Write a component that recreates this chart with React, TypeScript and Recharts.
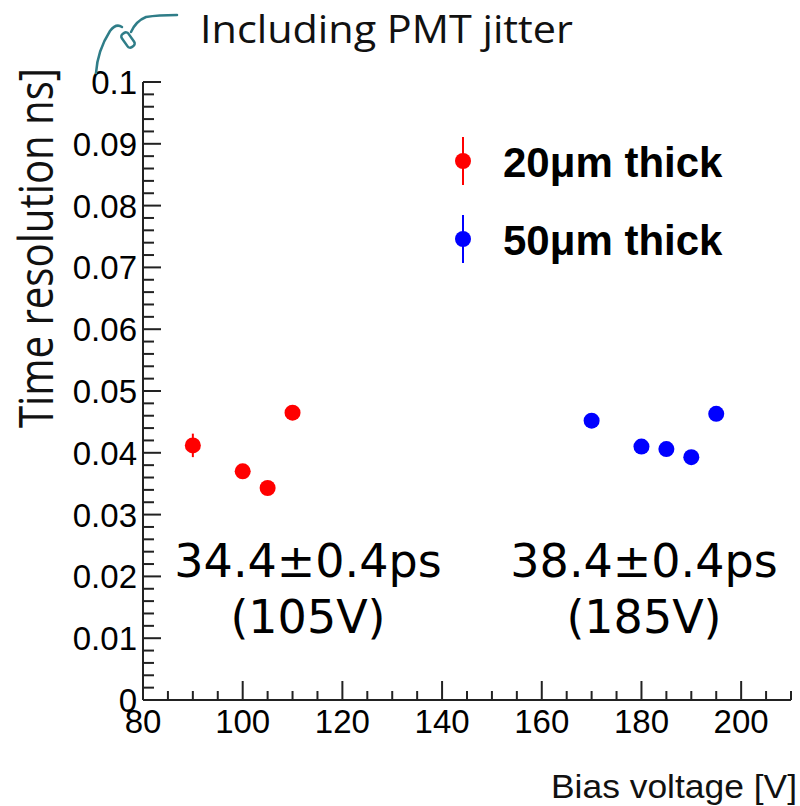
import React from 'react'
import { ScatterChart, Scatter, XAxis, YAxis, ErrorBar, Legend, Label } from 'recharts'

// 20um sensor: bias voltage [V] vs time resolution [ns]
const thinVoltage = [90, 100, 105, 110]
const thinResolution = [0.0412, 0.037, 0.0343, 0.0465]
const thinError = [0.0019, 0.0006, 0.0005, 0.0006]

// 50um sensor
const thickVoltage = [170, 180, 185, 190, 195]
const thickResolution = [0.0452, 0.041, 0.0406, 0.0393, 0.0463]
const thickError = [0.0005, 0.0005, 0.0005, 0.0005, 0.0005]

const seriesNames = ['20\u03bcm thick', '50\u03bcm thick']
const xMajorTicks = [80, 100, 120, 140, 160, 180, 200]
const yMajorTicks = ['0', '0.01', '0.02', '0.03', '0.04', '0.05', '0.06', '0.07', '0.08', '0.09', '0.1']
const bestResults = [
  { text: '34.4\u00b10.4ps', bias: '(105V)', cx: 308 },
  { text: '38.4\u00b10.4ps', bias: '(185V)', cx: 644 },
]

const thinData = thinVoltage.map((x, i) => ({ x, y: thinResolution[i], err: thinError[i] }))
const thickData = thickVoltage.map((x, i) => ({ x, y: thickResolution[i], err: thickError[i] }))

// every 5 V on x, every 0.002 ns on y (minor ticks)
const xTicks = Array.from({ length: 27 }, (_, i) => 80 + i * 5)
const yTicks = Array.from({ length: 51 }, (_, i) => i / 500)

const AXIS = '#222'
const tickFont = '"Liberation Sans", Arial, sans-serif'

const isMajorX = (v: number) => xMajorTicks.includes(v)
const majorYLabel = (v: number) => {
  const i = Math.round(v * 500)
  return i % 5 === 0 ? yMajorTicks[i / 5] : null
}

const BottomTick = ({ x, y, payload }: any) => {
  const major = isMajorX(payload.value)
  return (
    <g>
      <line x1={x} x2={x} y1={y} y2={y - (major ? 19 : 9)} stroke={AXIS} strokeWidth={2} />
      {major && (
        <text x={x} y={y + 33} textAnchor="middle" fontSize={33} fontFamily={tickFont} fill="#000">
          {payload.value}
        </text>
      )}
    </g>
  )
}

const TopTick = ({ x, y, payload }: any) => {
  const major = isMajorX(payload.value)
  return <line x1={x} x2={x} y1={y} y2={y + (major ? 18 : 8)} stroke={AXIS} strokeWidth={2} />
}

const LeftTick = ({ x, y, payload }: any) => {
  const label = majorYLabel(payload.value)
  return (
    <g>
      <line x1={x} x2={x + (label ? 18 : 11)} y1={y} y2={y} stroke={AXIS} strokeWidth={2} />
      {label && (
        <text x={x - 6} y={y + 12} textAnchor="end" fontSize={33} fontFamily={tickFont} fill="#000">
          {label}
        </text>
      )}
    </g>
  )
}

const RightTick = ({ x, y, payload }: any) => {
  const major = majorYLabel(payload.value) !== null
  return <line x1={x} x2={x - (major ? 19 : 10)} y1={y} y2={y} stroke={AXIS} strokeWidth={2} />
}

const Dot = ({ cx, cy, fill }: any) => <circle cx={cx} cy={cy} r={8} fill={fill} />

const LegendBox = ({ payload }: any) => (
  <svg width={330} height={150}>
    {(payload || []).map((entry: any, i: number) => {
      const cy = 36 + i * 78
      return (
        <g key={entry.value}>
          <line x1={23} x2={23} y1={cy - 24} y2={cy + 24} stroke={entry.color} strokeWidth={2} />
          <circle cx={23} cy={cy} r={8} fill={entry.color} />
          <text x={63} y={cy + 16} fontSize={42} fontWeight="bold" fontFamily={tickFont} fill="#000">
            {entry.value}
          </text>
        </g>
      )
    })}
  </svg>
)

// axis title sits at the bottom-right corner, ROOT style
const XTitle = ({ viewBox }: any) => (
  <text
    x={viewBox.x + viewBox.width + 6}
    y={798}
    textAnchor="end"
    fontSize={33}
    fontFamily={tickFont}
    fill="#111"
    textLength={246}
    lengthAdjust="spacingAndGlyphs"
  >
    Bias voltage [V]
  </text>
)

export default function App() {
  return (
    <div style={{ position: 'absolute', left: 0, top: 0, width: 800, height: 806, background: '#fff' }}>
      <ScatterChart width={800} height={806} margin={{ top: 82, right: 9, bottom: 66, left: 83 }}>
        <XAxis
          xAxisId={0}
          dataKey="x"
          type="number"
          domain={[80, 210]}
          ticks={xTicks}
          interval={0}
          height={40}
          tickSize={0}
          tickMargin={0}
          tickLine={false}
          axisLine={{ stroke: AXIS, strokeWidth: 2 }}
          tick={<BottomTick />}
          allowDataOverflow
        >
          <Label content={<XTitle />} />
        </XAxis>
        <XAxis
          xAxisId="top"
          orientation="top"
          dataKey="x"
          type="number"
          domain={[80, 210]}
          ticks={xTicks}
          interval={0}
          height={0}
          tickSize={0}
          tickMargin={0}
          tickLine={false}
          axisLine={{ stroke: AXIS, strokeWidth: 2 }}
          tick={<TopTick />}
          allowDataOverflow
        />
        <YAxis
          yAxisId={0}
          dataKey="y"
          type="number"
          domain={[0, 0.1]}
          ticks={yTicks}
          interval={0}
          width={60}
          tickSize={0}
          tickMargin={0}
          tickLine={false}
          axisLine={{ stroke: AXIS, strokeWidth: 2 }}
          tick={<LeftTick />}
          allowDataOverflow
        />
        <YAxis
          yAxisId="right"
          orientation="right"
          dataKey="y"
          type="number"
          domain={[0, 0.1]}
          ticks={yTicks}
          interval={0}
          width={0}
          tickSize={0}
          tickMargin={0}
          tickLine={false}
          axisLine={{ stroke: AXIS, strokeWidth: 2 }}
          tick={<RightTick />}
          allowDataOverflow
        />
        <Legend
          layout="vertical"
          align="center"
          verticalAlign="middle"
          content={<LegendBox />}
          wrapperStyle={{ position: 'absolute', left: 440, top: 125, width: 330, height: 150 }}
        />
        <Scatter name={seriesNames[0]} data={thinData} fill="#ff0000" shape={<Dot />} isAnimationActive={false}>
          <ErrorBar dataKey="err" direction="y" width={0} stroke="#ff0000" strokeWidth={2} isAnimationActive={false} />
        </Scatter>
        <Scatter name={seriesNames[1]} data={thickData} fill="#0000ff" shape={<Dot />} isAnimationActive={false}>
          <ErrorBar dataKey="err" direction="y" width={0} stroke="#0000ff" strokeWidth={2} isAnimationActive={false} />
        </Scatter>
      </ScatterChart>

      {/* slide annotations laid over the plot */}
      <svg width={800} height={806} style={{ position: 'absolute', left: 0, top: 0, pointerEvents: 'none' }}>
        <text x={200} y={43} fontSize={38} fontFamily='"Open Sans", sans-serif' fill="#111" textLength={373} lengthAdjust="spacingAndGlyphs">
          Including PMT jitter
        </text>
        <text
          transform="translate(53,248) rotate(-90)"
          textAnchor="middle"
          fontSize={48}
          fontFamily='"Open Sans", sans-serif'
          fill="#111"
          textLength={360}
          lengthAdjust="spacingAndGlyphs"
        >
          Time resolution ns]
        </text>
        {bestResults.map((r) => (
          <g key={r.text} fontFamily='"DejaVu Sans", sans-serif' fontSize={46} fill="#000" textAnchor="middle">
            <text x={r.cx} y={577}>{r.text}</text>
            <text x={r.cx} y={633}>{r.bias}</text>
          </g>
        ))}
        <g stroke="#2f7d88" strokeWidth={2.5} fill="none" strokeLinecap="round">
          <path d="M96,73 C97,58 103,42 110,31 Q116,23 122,27" />
          <rect x={-4} y={-8} width={8} height={16} rx={3} transform="translate(128,40) rotate(-35)" />
          <path d="M131,32 Q136,21 146,17 Q158,15 177,15" />
        </g>
      </svg>
    </div>
  )
}
